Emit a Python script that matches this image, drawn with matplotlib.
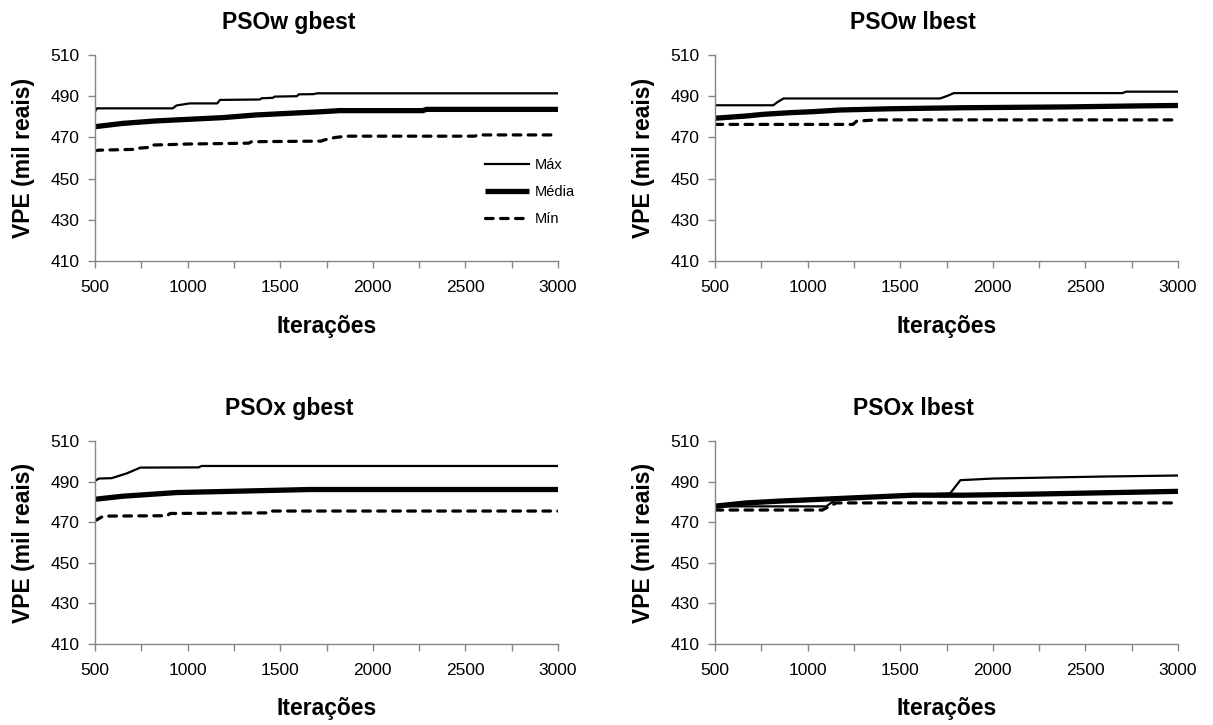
import matplotlib
matplotlib.use("Agg")
import matplotlib.pyplot as plt

plt.rcParams['font.family'] = ['Liberation Sans', 'DejaVu Sans']

# PSOw gbest
wg_max_x = [500, 510, 920, 940, 1010, 1160, 1175, 1390, 1400, 1460, 1470, 1590, 1600, 1680, 1700, 3000]
wg_max_y = [482.5, 484.1, 484.1, 485.5, 486.5, 486.5, 488.2, 488.4, 489.0, 489.2, 489.8, 490.0, 490.9, 491.0, 491.4, 491.4]
wg_med_x = [500, 650, 830, 1010, 1190, 1370, 1550, 1730, 1820, 2270, 2290, 3000]
wg_med_y = [475.2, 476.8, 478.0, 478.8, 479.6, 480.9, 481.7, 482.5, 483.0, 483.0, 483.6, 483.6]
wg_min_x = [500, 520, 720, 740, 800, 815, 1010, 1330, 1345, 1720, 1740, 1770, 1800, 1860, 2550, 2570, 3000]
wg_min_y = [463.5, 463.8, 464.2, 464.8, 465.2, 466.3, 466.8, 467.2, 467.9, 468.2, 468.8, 469.5, 470.0, 470.6, 470.6, 471.2, 471.2]

# PSOw lbest
wl_max_x = [500, 815, 835, 870, 1715, 1750, 1790, 2700, 2720, 3000]
wl_max_y = [485.6, 485.6, 487.0, 488.9, 488.9, 490.0, 491.5, 491.5, 492.2, 492.2]
wl_med_x = [500, 670, 760, 905, 1030, 1175, 1445, 1840, 2400, 2800, 3000]
wl_med_y = [479.3, 480.4, 481.2, 482.0, 482.5, 483.3, 483.9, 484.4, 484.8, 485.3, 485.5]
wl_min_x = [500, 1245, 1265, 1370, 3000]
wl_min_y = [476.3, 476.3, 477.9, 478.5, 478.5]

# PSOx gbest
xg_max_x = [500, 520, 590, 670, 745, 1060, 1075, 3000]
xg_max_y = [490.3, 491.5, 491.7, 494.0, 496.9, 497.0, 497.7, 497.7]
xg_med_x = [500, 650, 780, 940, 1280, 1660, 3000]
xg_med_y = [481.3, 482.8, 483.6, 484.6, 485.3, 486.1, 486.1]
xg_min_x = [500, 545, 890, 905, 1440, 1455, 3000]
xg_min_y = [470.7, 473.0, 473.2, 474.3, 474.6, 475.5, 475.5]

# PSOx lbest
xl_max_x = [500, 1100, 1160, 1300, 1570, 1770, 1790, 1825, 2000, 2300, 2600, 3000]
xl_max_y = [477.8, 477.8, 481.6, 482.3, 483.4, 484.2, 486.6, 490.7, 491.5, 492.0, 492.5, 493.0]
xl_med_x = [500, 670, 850, 1175, 1300, 1570, 1840, 2200, 2600, 3000]
xl_med_y = [477.9, 479.5, 480.4, 481.7, 482.2, 483.3, 483.3, 483.8, 484.5, 485.2]
xl_min_x = [500, 1080, 1110, 1155, 3000]
xl_min_y = [476.0, 476.0, 477.5, 479.5, 479.5]

x_ticks = list(range(500, 3001, 250))
x_labels = [str(t) if t % 500 == 0 else '' for t in x_ticks]
y_ticks = [410, 430, 450, 470, 490, 510]

AXIS_GRAY = '#868686'


def plot_panel(ax, title, title_x, mx, my, ax_, ay, nx, ny):
    ax.plot(mx, my, color='black', lw=1.6, label='Máx')
    ax.plot(ax_, ay, color='black', lw=3.8, label='Média', solid_capstyle='butt')
    ax.plot(nx, ny, color='black', lw=2.3, linestyle=(0, (2.4, 2.3)),
            dash_capstyle='round', label='Mín')

    ax.set_xlim(500, 3000)
    ax.set_ylim(410, 510)
    ax.set_xticks(x_ticks)
    ax.set_xticklabels(x_labels)
    ax.set_yticks(y_ticks)
    ax.tick_params(axis='both', direction='out', length=5, width=1,
                   color=AXIS_GRAY, labelsize=12.5, labelcolor='black')
    ax.tick_params(axis='x', pad=9)
    ax.tick_params(axis='y', pad=6)
    for side in ('top', 'right'):
        ax.spines[side].set_visible(False)
    for side in ('left', 'bottom'):
        ax.spines[side].set_color(AXIS_GRAY)
        ax.spines[side].set_linewidth(1)

    ax.set_title(title, x=title_x, y=1.16, pad=0, va='center',
                 fontsize=16.5, fontweight='bold')
    ax.set_xlabel('Iterações', fontsize=16.5, fontweight='bold', va='center')
    ax.xaxis.set_label_coords(0.5, -0.32)
    ax.set_ylabel('VPE (mil reais)', fontsize=16.5, fontweight='bold', va='center')
    ax.yaxis.set_label_coords(-0.155, 0.5)


fig = plt.figure(figsize=(12.13, 7.25), dpi=100)
W, H = 1213, 725

def axes_at(left, top, width, height):
    return fig.add_axes([left / W, 1 - (top + height) / H, width / W, height / H])

ax1 = axes_at(95, 55, 463, 206)
ax2 = axes_at(715, 55, 463, 206)
ax3 = axes_at(95, 441, 463, 203)
ax4 = axes_at(715, 441, 463, 203)

plot_panel(ax1, 'PSOw gbest', 0.419, wg_max_x, wg_max_y, wg_med_x, wg_med_y, wg_min_x, wg_min_y)
plot_panel(ax2, 'PSOw lbest', 0.428, wl_max_x, wl_max_y, wl_med_x, wl_med_y, wl_min_x, wl_min_y)
plot_panel(ax3, 'PSOx gbest', 0.419, xg_max_x, xg_max_y, xg_med_x, xg_med_y, xg_min_x, xg_min_y)
plot_panel(ax4, 'PSOx lbest', 0.428, xl_max_x, xl_max_y, xl_med_x, xl_med_y, xl_min_x, xl_min_y)

# legend sits inside the first panel only
ax1.legend(loc='upper left', bbox_to_anchor=(0.842, 0.50), frameon=False,
           fontsize=10.5, handlelength=3.0, handletextpad=0.4, labelspacing=0.9,
           borderpad=0, borderaxespad=0)

fig.savefig('out.png', dpi=100)
